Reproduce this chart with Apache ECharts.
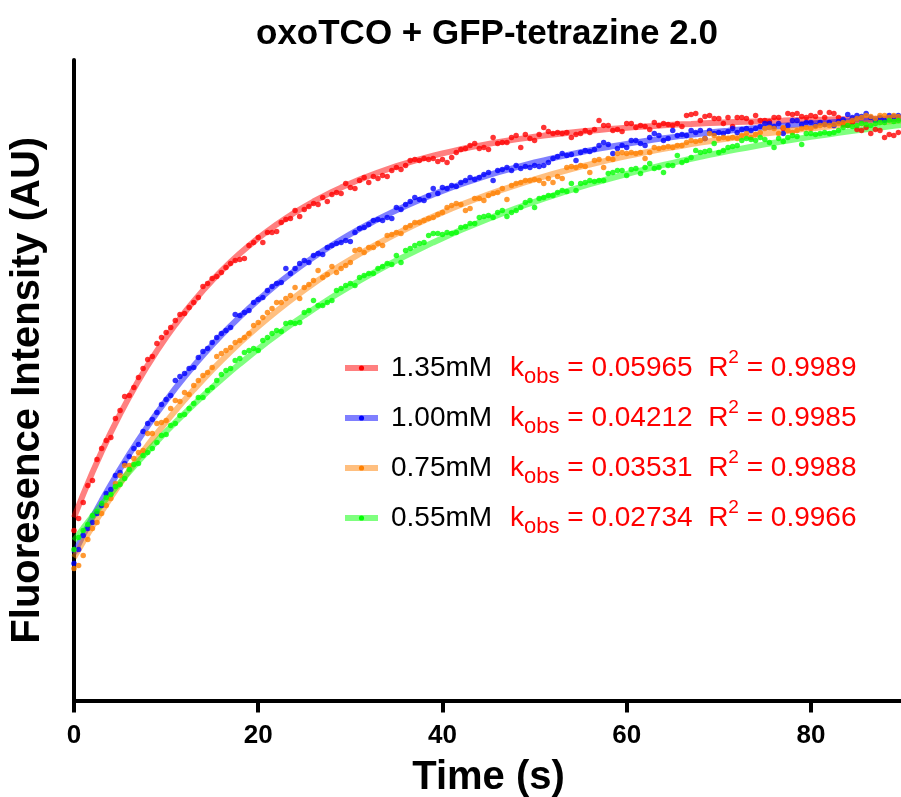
<!DOCTYPE html>
<html>
<head>
<meta charset="utf-8">
<script src="https://cdn.jsdelivr.net/npm/echarts@6/dist/echarts.min.js"></script>
<style>html,body{margin:0;padding:0;background:#fff}#c{width:901px;height:797px}</style>
</head>
<body>
<div id="c"></div>
<script>
// ---------- data ----------
const concentrations = ['1.35mM', '1.00mM', '0.75mM', '0.55mM'];
const kobsLabels = ['0.05965', '0.04212', '0.03531', '0.02734'];
const r2Labels = ['0.9989', '0.9985', '0.9988', '0.9966'];
const xTickLabels = [0, 20, 40, 60, 80];

// sample times (s)
const sampleTimes = [
  0,0.5,1,1.5,2,2.5,3,3.5,4,4.5,5,5.5,6,6.5,7,7.5,8,8.5,9,9.5,
  10,10.5,11,11.5,12,12.5,13,13.5,14,14.5,15,15.5,16,16.5,17,17.5,18,18.5,19,19.5,
  20,20.5,21,21.5,22,22.5,23,23.5,24,24.5,25,25.5,26,26.5,27,27.5,28,28.5,29,29.5,
  30,30.5,31,31.5,32,32.5,33,33.5,34,34.5,35,35.5,36,36.5,37,37.5,38,38.5,39,39.5,
  40,40.5,41,41.5,42,42.5,43,43.5,44,44.5,45,45.5,46,46.5,47,47.5,48,48.5,49,49.5,
  50,50.5,51,51.5,52,52.5,53,53.5,54,54.5,55,55.5,56,56.5,57,57.5,58,58.5,59,59.5,
  60,60.5,61,61.5,62,62.5,63,63.5,64,64.5,65,65.5,66,66.5,67,67.5,68,68.5,69,69.5,
  70,70.5,71,71.5,72,72.5,73,73.5,74,74.5,75,75.5,76,76.5,77,77.5,78,78.5,79,79.5,
  80,80.5,81,81.5,82,82.5,83,83.5,84,84.5,85,85.5,86,86.5,87,87.5,88,88.5,89,89.5
];

// measured fluorescence (AU)
const data135 = [
  170,182,198,215,220,241,252,260,263,282,290,304,305,313,323,332,341,344,357,363,
  368,373,380,386,387,393,398,403,414,417,422,424,428,433,437,440,441,442,455,458,
  463,458,468,468,469,478,481,482,490,484,491,494,497,496,503,499,506,508,507,517,
  513,512,520,523,518,524,522,525,524,530,533,531,535,540,541,540,542,541,542,539,
  541,538,543,548,551,552,555,557,552,553,551,563,557,558,558,563,565,553,566,562,
  560,566,573,569,567,568,567,568,563,566,567,570,568,571,580,575,575,570,571,569,
  577,577,573,575,574,571,578,575,577,576,575,577,574,585,586,587,580,584,585,582,
  582,577,583,574,583,583,582,578,585,580,580,579,583,583,572,587,586,587,584,583,
  585,584,588,583,588,587,583,576,575,578,571,570,573,567,571,570,563,566,565,568
];
const data100 = [
  137,151,165,172,178,187,195,207,211,225,228,237,244,252,256,269,277,281,288,296,
  301,305,320,324,327,332,333,343,349,352,358,363,367,370,373,386,385,388,390,398,
  401,403,410,414,417,418,432,427,432,437,440,438,445,447,446,453,455,457,458,460,
  459,468,472,473,476,480,481,480,483,482,493,491,496,499,503,501,500,505,512,507,
  513,512,515,514,518,520,523,521,523,526,528,520,530,531,533,530,535,532,534,533,
  535,534,535,538,542,544,547,545,546,540,548,550,549,551,555,558,556,547,552,555,
  553,560,560,557,555,563,567,565,560,562,570,565,566,565,570,568,570,562,570,567,
  568,567,569,572,568,571,572,570,572,574,577,577,574,577,567,575,580,580,576,578,
  578,575,578,576,578,575,579,581,586,583,585,584,587,583,580,583,580,585,584,585
];
const data075 = [
  132,135,145,161,172,178,187,195,202,217,225,235,235,242,248,250,267,267,277,278,
  280,292,300,299,308,306,315,320,325,328,333,344,347,350,353,358,360,363,367,375,
  378,383,388,392,398,398,402,405,413,402,413,416,420,430,423,426,434,428,432,435,
  438,450,451,448,453,453,457,455,465,466,468,467,473,475,478,478,480,482,483,486,
  488,493,495,497,496,490,492,502,502,500,505,507,508,512,501,515,517,518,520,520,
  521,520,517,522,518,524,522,533,534,533,535,534,528,540,541,533,542,541,547,548,
  547,548,547,548,542,548,553,552,553,554,553,555,555,558,560,559,560,562,567,565,
  562,563,562,563,562,565,567,563,566,568,572,573,572,567,573,570,568,570,572,573,
  572,574,575,576,575,576,577,578,578,580,582,583,585,584,582,585,585,583,585,584
];
const data055 = [
  151,163,170,176,185,189,197,203,206,214,216,222,231,236,237,245,248,252,258,265,
  266,275,277,285,286,292,297,303,303,310,313,320,326,330,332,340,342,348,350,352,
  350,360,363,367,370,369,377,378,377,378,388,390,400,395,395,398,400,410,412,415,
  417,415,423,425,427,427,432,434,437,436,445,438,450,452,455,457,458,465,467,467,
  466,468,467,468,473,474,477,477,483,484,485,483,488,490,484,488,490,493,498,500,
  493,502,503,505,505,508,510,509,517,510,517,518,520,519,520,520,527,528,530,530,
  525,531,532,527,533,537,532,533,528,535,535,545,538,540,543,550,548,549,550,557,
  548,550,553,554,555,560,562,561,560,563,561,558,553,562,559,563,565,564,556,567,
  567,566,567,568,567,568,570,573,575,574,575,577,576,575,577,578,578,580,579,580
];

// fitted one-phase association curves, read at 1 s steps
const fitTimes = [
  0,1,2,3,4,5,6,7,8,9,10,11,12,13,14,15,16,17,18,19,20,21,22,23,24,25,26,27,28,29,
  30,31,32,33,34,35,36,37,38,39,40,41,42,43,44,45,46,47,48,49,50,51,52,53,54,55,56,57,58,59,
  60,61,62,63,64,65,66,67,68,69,70,71,72,73,74,75,76,77,78,79,80,81,82,83,84,85,86,87,88,89,90
];
const fit135 = [
  183.0,206.2,228.1,248.7,268.1,286.4,303.6,319.9,335.2,349.6,
  363.2,375.9,388.0,399.3,410.0,420.1,429.6,438.5,447.0,454.9,
  462.4,469.4,476.1,482.3,488.2,493.7,499.0,503.9,508.5,512.9,
  517.0,520.9,524.5,528.0,531.2,534.3,537.2,539.9,542.4,544.8,
  547.1,549.2,551.3,553.2,554.9,556.6,558.2,559.7,561.1,562.4,
  563.7,564.9,566.0,567.0,568.0,568.9,569.8,570.6,571.4,572.1,
  572.8,573.5,574.1,574.6,575.2,575.7,576.2,576.6,577.1,577.5,
  577.8,578.2,578.5,578.8,579.1,579.4,579.7,579.9,580.2,580.4,
  580.6,580.8,581.0,581.2,581.3,581.5,581.6,581.8,581.9,582.0,582.1
];
const fit100 = [
  147.0,165.4,183.0,199.9,216.0,231.5,246.4,260.7,274.4,287.5,
  300.0,312.1,323.6,334.7,345.3,355.5,365.3,374.6,383.6,392.2,
  400.5,408.4,416.0,423.2,430.2,436.9,443.3,449.4,455.3,461.0,
  466.4,471.6,476.5,481.3,485.9,490.3,494.5,498.5,502.4,506.1,
  509.6,513.0,516.3,519.4,522.4,525.3,528.1,530.7,533.2,535.7,
  538.0,540.2,542.4,544.4,546.4,548.3,550.1,551.9,553.5,555.1,
  556.6,558.1,559.5,560.9,562.2,563.4,564.6,565.7,566.8,567.9,
  568.9,569.8,570.8,571.6,572.5,573.3,574.1,574.8,575.5,576.2,
  576.9,577.5,578.1,578.7,579.3,579.8,580.3,580.8,581.3,581.7,582.2
];
const fit075 = [
  143.0,158.8,174.1,188.9,203.1,216.8,230.1,242.9,255.3,267.2,
  278.7,289.8,300.6,310.9,320.9,330.6,339.9,348.9,357.6,366.0,
  374.1,381.9,389.4,396.7,403.7,410.5,417.0,423.4,429.5,435.4,
  441.0,446.5,451.8,456.9,461.9,466.6,471.2,475.7,480.0,484.1,
  488.1,491.9,495.7,499.3,502.7,506.1,509.3,512.4,515.4,518.3,
  521.1,523.9,526.5,529.0,531.4,533.8,536.0,538.2,540.4,542.4,
  544.4,546.3,548.1,549.9,551.6,553.2,554.8,556.4,557.9,559.3,
  560.7,562.0,563.3,564.5,565.8,566.9,568.0,569.1,570.2,571.2,
  572.1,573.1,574.0,574.9,575.7,576.5,577.3,578.1,578.8,579.5,580.2
];
const fit055 = [
  160.0,172.3,184.2,195.8,207.1,218.1,228.8,239.2,249.3,259.2,
  268.8,278.1,287.2,296.0,304.6,312.9,321.1,329.0,336.7,344.2,
  351.5,358.6,365.5,372.2,378.7,385.1,391.3,397.3,403.2,408.9,
  414.4,419.8,425.1,430.2,435.2,440.0,444.7,449.3,453.8,458.1,
  462.3,466.4,470.4,474.3,478.1,481.8,485.4,488.8,492.2,495.5,
  498.7,501.9,504.9,507.9,510.7,513.5,516.3,518.9,521.5,524.0,
  526.5,528.8,531.2,533.4,535.6,537.7,539.8,541.8,543.8,545.7,
  547.5,549.4,551.1,552.8,554.5,556.1,557.7,559.2,560.7,562.2,
  563.6,565.0,566.3,567.6,568.9,570.1,571.3,572.5,573.6,574.7,575.8
];

// ---------- chart ----------
const FONT = '"Liberation Sans", Arial, Helvetica, sans-serif';
const measured = [data135, data100, data075, data055];
const fitted = [fit135, fit100, fit075, fit055];
const dotColors = ['#ff0000', '#0000ff', '#ff8000', '#00ff00'];
const lineColors = ['rgba(255,0,0,0.5)', 'rgba(0,0,255,0.5)', 'rgba(255,128,0,0.5)', 'rgba(0,255,0,0.5)'];
const pairs = (xs, ys) => xs.map((x, i) => [x, ys[i]]);

const series = [];
concentrations.forEach((name, i) => {
  series.push({
    type: 'line', name: name, data: pairs(fitTimes, fitted[i]),
    symbol: 'none', showSymbol: false, smooth: false, silent: true,
    lineStyle: { width: 6, color: lineColors[i], cap: 'butt' },
    itemStyle: { color: lineColors[i] }, z: 2
  });
});
concentrations.forEach((name, i) => {
  series.push({
    type: 'scatter', name: name, data: pairs(sampleTimes, measured[i]),
    symbol: 'circle', symbolSize: 5.5, silent: true,
    itemStyle: { color: dotColors[i], borderWidth: 0 }, z: 3
  });
});

const chart = echarts.init(document.getElementById('c'), null, { renderer: 'canvas' });
chart.setOption({
  animation: false,
  backgroundColor: '#ffffff',
  title: {
    text: 'oxoTCO + GFP-tetrazine 2.0', left: 256, top: 17, padding: 0,
    textStyle: { fontFamily: FONT, fontSize: 35, fontWeight: 'bold', color: '#000' }
  },
  grid: { left: 74, right: -2, top: 60, bottom: 96.5, containLabel: false, outerBoundsMode: 'none' },
  xAxis: {
    type: 'value', min: 0, max: 90, interval: 20,
    name: 'Time (s)', nameLocation: 'middle', nameGap: 57,
    nameTextStyle: { fontFamily: FONT, fontSize: 40, fontWeight: 'bold', color: '#000' },
    axisLine: { show: true, lineStyle: { color: '#000', width: 4 } },
    axisTick: { show: true, length: 12, lineStyle: { color: '#000', width: 4 } },
    axisLabel: {
      show: true, margin: 22, fontFamily: FONT, fontSize: 26, fontWeight: 'bold', color: '#000',
      showMaxLabel: false,
      formatter: v => (xTickLabels.indexOf(v) >= 0 ? String(v) : '')
    },
    splitLine: { show: false }
  },
  yAxis: {
    type: 'value', min: 0, max: 640.5,
    name: 'Fluoresence Intensity (AU)', nameLocation: 'middle', nameGap: 26, nameRotate: 90,
    nameTextStyle: { fontFamily: FONT, fontSize: 40, fontWeight: 'bold', color: '#000', padding: [0, 20, 0, 0] },
    axisLine: { show: true, lineStyle: { color: '#000', width: 4 } },
    axisTick: { show: false },
    axisLabel: { show: false },
    splitLine: { show: false }
  },
  legend: {
    orient: 'vertical', left: 342, top: 348, padding: 0, itemGap: 10,
    itemWidth: 33, itemHeight: 6.5, selectedMode: false,
    data: concentrations.map((n, i) => ({
      name: n,
      itemStyle: { color: dotColors[i], borderWidth: 0 },
      lineStyle: { color: lineColors[i], width: 6 }
    })),
    formatter: name => {
      const i = concentrations.indexOf(name);
      return '{n|' + name + '}{k|k}{sub|obs}{k| = ' + kobsLabels[i] + '  R}{sup|2}{k| = ' + r2Labels[i] + '}';
    },
    textStyle: {
      fontFamily: FONT, fontSize: 28, color: '#000',
      rich: {
        n: { fontFamily: FONT, fontSize: 28, color: '#000', width: 119, padding: [0, 0, 0, 8], lineHeight: 40 },
        k: { fontFamily: FONT, fontSize: 28, color: '#ff0000', lineHeight: 40 },
        sub: { fontFamily: FONT, fontSize: 22, color: '#ff0000', lineHeight: 18, verticalAlign: 'bottom' },
        sup: { fontFamily: FONT, fontSize: 19, color: '#ff0000', lineHeight: 28, verticalAlign: 'top' }
      }
    }
  },
  series: series
});
</script>
</body>
</html>
